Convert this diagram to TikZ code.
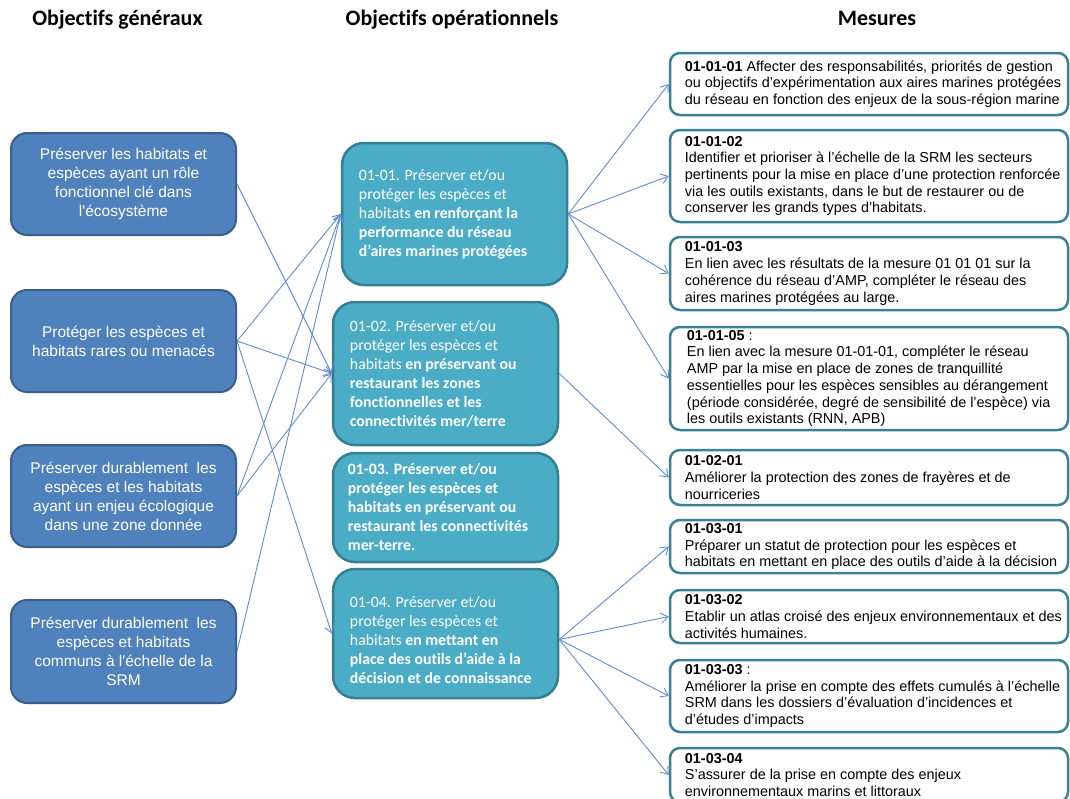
\documentclass[tikz,border=0pt]{standalone}
\usepackage{fontspec}
\setmainfont{Liberation Sans}
\newfontfamily\arialfont{Liberation Sans}
\newfontfamily\calfont[Ligatures={NoCommon}]{Carlito}
\usetikzlibrary{arrows.meta}
\definecolor{gfill}{HTML}{4F81BD}
\definecolor{gborder}{HTML}{3A5F8B}
\definecolor{ofill}{HTML}{4BACC6}
\definecolor{oborder}{HTML}{357F93}
\definecolor{mborder}{HTML}{3A8196}
\definecolor{lnk}{HTML}{5F8DD0}
\tikzset{
 genbox/.style={draw=gborder, fill=gfill, line width=2pt, rounded corners=16pt, minimum width=225pt, text=white, align=center, font={\arialfont\fontsize{15.5}{19}\selectfont}, inner sep=0pt},
 opbox/.style={draw=oborder, fill=ofill, line width=2.5pt, rounded corners=22pt, minimum width=225pt, inner sep=0pt},
 optext/.style={anchor=west, inner sep=0pt, text=white, align=left, font={\calfont\fontsize{15.8}{19}\selectfont}},
 mbox/.style={draw=mborder, fill=white, line width=2.5pt, rounded corners=10pt, minimum width=398pt, inner sep=0pt},
 mtext/.style={anchor=west, inner sep=0pt, align=left, font={\fontsize{14.4}{16.7}\selectfont}},
 header/.style={font={\calfont\bfseries\fontsize{22}{26}\selectfont}},
 link/.style={draw=lnk, line width=0.9pt, -{Straight Barb[length=7pt,width=10pt]}},
}
\begin{document}
\begin{tikzpicture}[x=1pt,y=-1pt]
\clip (0,0) rectangle (1070,798);
\fill[white] (0,0) rectangle (1070,798);

% headers
\node[header] (h1) at (117.5,20) {Objectifs généraux};
\node[header] (h2) at (452,20) {Objectifs opérationnels};
\node[header] (h3) at (877,18) {Mesures};

% general objectives
\node[genbox, minimum height=102pt] (l1) at (123.5,184) {Préserver les habitats et\\espèces ayant un rôle\\fonctionnel clé dans\\l'écosystème};
\node[genbox, minimum height=102pt] (l2) at (123.5,341) {Protéger les espèces et\\habitats rares ou menacés};
\node[genbox, minimum height=102pt] (l3) at (123.5,496) {Préserver durablement\ \ les\\espèces et les habitats\\ayant un enjeu écologique\\dans une zone donnée};
\node[genbox, minimum height=103pt] (l4) at (123.5,651.5) {Préserver durablement\ \ les\\espèces et habitats\\communs à l'échelle de la\\SRM};

% operational objectives
\node[opbox, minimum height=142pt] (m1) at (454.5,214) {};
\node[optext] (m1t) at ([xshift=18pt]m1.west) {01-01. Préserver et/ou\\protéger les espèces et\\habitats \textbf{en renforçant la}\\\textbf{performance du réseau}\\\textbf{d’aires marines protégées}};
\node[opbox, minimum height=143pt] (m2) at (445.5,373.5) {};
\node[optext] (m2t) at ([xshift=18pt]m2.west) {01-02. Préserver et/ou\\protéger les espèces et\\habitats \textbf{en préservant ou}\\\textbf{restaurant les zones}\\\textbf{fonctionnelles et les}\\\textbf{connectivités mer/terre}};
\node[opbox, minimum height=109pt] (m3) at (445.5,507.5) {};
\node[optext, font={\calfont\bfseries\fontsize{15.8}{19}\selectfont}] (m3t) at ([xshift=16pt]m3.west) {01-03. Préserver et/ou\\protéger les espèces et\\habitats en préservant ou\\restaurant les connectivités\\mer-terre.};
\node[opbox, minimum height=129pt] (m4) at (445.5,633.5) {};
\node[optext] (m4t) at ([xshift=18pt,yshift=-7pt]m4.west) {01-04. Préserver et/ou\\protéger les espèces et\\habitats \textbf{en mettant en}\\\textbf{place des outils d’aide à la}\\\textbf{décision et de connaissance}};

% measures
\node[mbox, minimum height=62pt] (r1) at (869,84) {};
\node[mtext] (r1t) at ([xshift=16pt]r1.west) {\textbf{01-01-01} Affecter des responsabilités, priorités de gestion\\ou objectifs d’expérimentation aux aires marines protégées\\du réseau en fonction des enjeux de la sous-région marine};
\node[mbox, minimum height=92pt] (r2) at (869,176) {};
\node[mtext] (r2t) at ([xshift=16pt]r2.west) {\textbf{01-01-02}\\Identifier et prioriser à l’échelle de la SRM les secteurs\\pertinents pour la mise en place d’une protection renforcée\\via les outils existants, dans le but de restaurer ou de\\conserver les grands types d’habitats.};
\node[mbox, minimum height=73pt] (r3) at (869,273.5) {};
\node[mtext] (r3t) at ([xshift=16pt]r3.west) {\textbf{01-01-03}\\En lien avec les résultats de la mesure 01 01 01 sur la\\cohérence du réseau d’AMP, compléter le réseau des\\aires marines protégées au large.};
\node[mbox, minimum height=103pt] (r4) at (869,378.5) {};
\node[mtext] (r4t) at ([xshift=18pt]r4.west) {\textbf{01-01-05} :\\En lien avec la mesure 01-01-01, compléter le réseau\\AMP par la mise en place de zones de tranquillité\\essentielles pour les espèces sensibles au dérangement\\(période considérée, degré de sensibilité de l’espèce) via\\les outils existants (RNN, APB)};
\node[mbox, minimum height=55pt] (r5) at (869,477.5) {};
\node[mtext] (r5t) at ([xshift=16pt]r5.west) {\textbf{01-02-01}\\Améliorer la protection des zones de frayères et de\\nourriceries};
\node[mbox, minimum height=53pt] (r6) at (869,546.5) {};
\node[mtext] (r6t) at ([xshift=16pt]r6.west) {\textbf{01-03-01}\\Préparer un statut de protection pour les espèces et\\habitats en mettant en place des outils d’aide à la décision};
\node[mbox, minimum height=53pt] (r7) at (869,616.5) {};
\node[mtext] (r7t) at ([xshift=16pt]r7.west) {\textbf{01-03-02}\\Etablir un atlas croisé des enjeux environnementaux et des\\activités humaines.};
\node[mbox, minimum height=72pt] (r8) at (869,696) {};
\node[mtext] (r8t) at ([xshift=16pt]r8.west) {\textbf{01-03-03} :\\Améliorer la prise en compte des effets cumulés à l’échelle\\SRM dans les dossiers d’évaluation d’incidences et\\d’études d’impacts};
\node[mbox, minimum height=54pt] (r9) at (869,775) {};
\node[mtext] (r9t) at ([xshift=16pt]r9.west) {\textbf{01-03-04}\\S’assurer de la prise en compte des enjeux\\environnementaux marins et littoraux};

% links general -> operational
\draw[link] (l1.east) -- (m2.west);
\draw[link] (l2.east) -- (m1.west);
\draw[link] (l2.east) -- (m2.west);
\draw[link] (l2.east) -- (m4.west);
\draw[link] (l3.east) -- (m1.west);
\draw[link] (l3.east) -- (m2.west);
\draw[link] (l4.east) -- (m1.west);

% links operational -> measures
\draw[link] (m1.east) -- (r1.west);
\draw[link] (m1.east) -- (r2.west);
\draw[link] (m1.east) -- (r3.west);
\draw[link] (m1.east) -- (r4.west);
\draw[link] (m2.east) -- (r5.west);
\draw[link] ([yshift=-6pt]m4.east) -- (r6.west);
\draw[link] ([yshift=-6pt]m4.east) -- (r7.west);
\draw[link] ([yshift=-6pt]m4.east) -- (r8.west);
\draw[link] ([yshift=-6pt]m4.east) -- (r9.west);
\end{tikzpicture}
\end{document}
